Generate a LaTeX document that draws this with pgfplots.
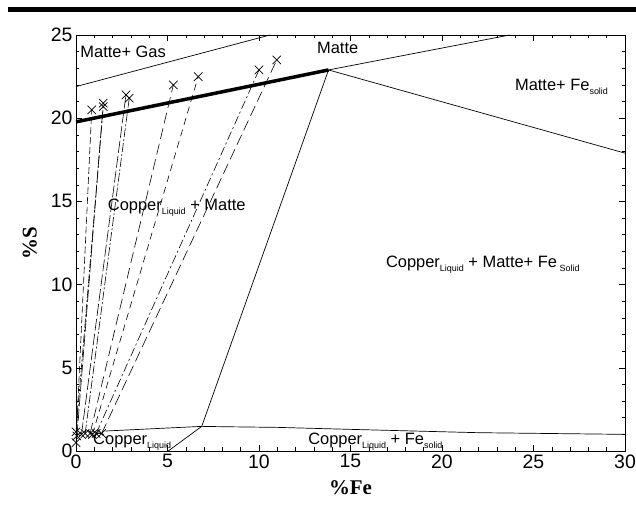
\documentclass[border=0pt]{standalone}
\usepackage{fontspec}
\setmainfont{Liberation Sans}
\newfontfamily\serifb{Liberation Serif}
\usepackage{pgfplots}
\pgfplotsset{compat=1.18}
\newcommand\sub[1]{\raisebox{-4bp}{\fontsize{9}{10}\selectfont #1}}
\begin{document}
\begin{tikzpicture}
\useasboundingbox (-76bp,-57bp) rectangle (560bp,451bp);
\fill[black] (-68bp,439.4bp) rectangle (560bp,443.7bp);
\begin{axis}[
  at={(0,0)}, anchor=south west,
  width=549bp, height=416bp, scale only axis,
  xmin=0, xmax=30, ymin=0, ymax=25,
  xtick={0,5,...,30}, ytick={0,5,...,25},
  minor x tick num=4, minor y tick num=4,
  tick align=inside,
  major tick length=6bp, minor tick length=3.5bp,
  tick style={black, line width=0.5pt},
  axis line style={line width=0.6pt},
  /pgf/number format/assume math mode=true,
  ticklabel style={font=\fontsize{19.5}{21}\selectfont},
  xlabel={\serifb\bfseries\%Fe},
  ylabel={\serifb\bfseries\%S},
  xlabel style={font=\fontsize{21}{23}\selectfont, at={(axis description cs:0.5,-0.089)}, anchor=center},
  ylabel style={font=\fontsize{21}{23}\selectfont, at={(axis description cs:-0.084,0.5)}, anchor=center},
  clip=true,
]
% boundaries
\addplot[black, line width=0.7pt] coordinates {(0,21.9) (10.6,25)};
\addplot[black, line width=0.7pt] coordinates {(13.8,22.9) (23.7,25)};
\addplot[black, line width=0.7pt] coordinates {(13.8,22.9) (30,17.9)};
\addplot[black, line width=0.7pt] coordinates {(13.8,22.9) (6.87,1.48) (5.04,0)};
\addplot[black, line width=0.7pt] coordinates {(1.6,1.2) (6.87,1.48) (8,1.46) (11,1.42) (15,1.3) (22,1.1) (30,1.0)};
% tie lines
\addplot[black, line width=0.6pt, dash pattern=on 7pt off 3pt, mark=x, mark size=6pt, mark options={solid, line width=0.7pt}] coordinates {(0.0,0.5) (0.86,20.5)};
\addplot[black, line width=0.6pt, dash pattern=on 12pt off 3pt, mark=x, mark size=6pt, mark options={solid, line width=0.7pt}] coordinates {(0.05,0.9) (1.49,20.9)};
\addplot[black, line width=0.6pt, dash pattern=on 9pt off 2pt on 2pt off 2pt, mark=x, mark size=6pt, mark options={solid, line width=0.7pt}] coordinates {(0.0,1.15) (1.49,20.7)};
\addplot[black, line width=0.6pt, dash pattern=on 12pt off 3pt, mark=x, mark size=6pt, mark options={solid, line width=0.7pt}] coordinates {(0.3,1.0) (2.73,21.4)};
\addplot[black, line width=0.6pt, dash pattern=on 9pt off 2pt on 2pt off 2pt, mark=x, mark size=6pt, mark options={solid, line width=0.7pt}] coordinates {(0.5,1.05) (2.91,21.2)};
\addplot[black, line width=0.6pt, dash pattern=on 11pt off 5pt, mark=x, mark size=6pt, mark options={solid, line width=0.7pt}] coordinates {(0.77,1.05) (5.32,22.0)};
\addplot[black, line width=0.6pt, dash pattern=on 7pt off 5pt, mark=x, mark size=6pt, mark options={solid, line width=0.7pt}] coordinates {(0.9,1.0) (6.68,22.5)};
\addplot[black, line width=0.6pt, dash pattern=on 9pt off 3pt on 2pt off 3pt, mark=x, mark size=6pt, mark options={solid, line width=0.7pt}] coordinates {(1.1,1.05) (10.0,22.9)};
\addplot[black, line width=0.6pt, dash pattern=on 11pt off 5pt, mark=x, mark size=6pt, mark options={solid, line width=0.7pt}] coordinates {(1.4,1.05) (10.97,23.5)};
% thick matte boundary
\addplot[black, line width=3.5pt] coordinates {(0,19.78) (13.8,22.9)};
% labels
\node[anchor=west, font=\fontsize{16.5}{18}\selectfont] at (axis cs:0.05,24.0) {Matte+ Gas};
\node[anchor=center, font=\fontsize{16.5}{18}\selectfont] at (axis cs:14.3,24.2) {Matte};
\node[anchor=west, font=\fontsize{16.5}{18}\selectfont] at (axis cs:23.8,21.9) {Matte+ Fe\sub{solid}};
\node[anchor=west, font=\fontsize{16.5}{18}\selectfont] at (axis cs:1.55,14.6) {Copper\sub{Liquid} + Matte};
\node[anchor=west, font=\fontsize{16.5}{18}\selectfont] at (axis cs:16.75,11.2) {Copper\sub{Liquid} + Matte+ Fe\sub{ Solid}};
\node[anchor=west, font=\fontsize{16.5}{18}\selectfont] at (axis cs:0.75,0.55) {Copper\sub{Liquid}};
\node[anchor=west, font=\fontsize{16.5}{18}\selectfont] at (axis cs:12.5,0.55) {Copper\sub{Liquid} + Fe\sub{solid}};
\end{axis}
\end{tikzpicture}
\end{document}
